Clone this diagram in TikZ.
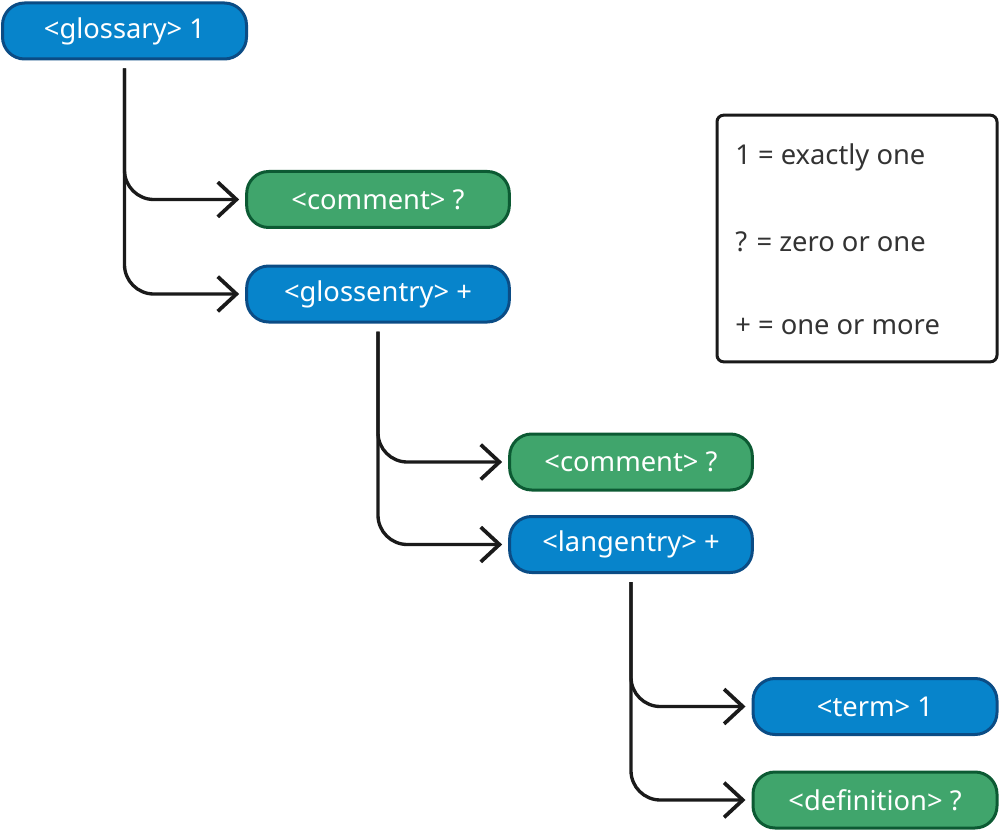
\documentclass[tikz,border=0pt]{standalone}
\usepackage{fontspec}
\setmainfont{Noto Sans}
\usetikzlibrary{arrows.meta}
\definecolor{bluefill}{HTML}{0784CB}
\definecolor{bluedraw}{HTML}{0B4C85}
\definecolor{greenfill}{HTML}{40A56C}
\definecolor{greendraw}{HTML}{0C5A33}
\definecolor{legtext}{HTML}{333333}
\definecolor{linecol}{HTML}{1A1A1A}
\newcommand{\lowtext}[1]{\raisebox{-1.5pt}{#1}}
\tikzset{
  box/.style={rounded corners=16.5pt, line width=2.25pt, text=white,
    font=\fontsize{20.5}{24}\selectfont, inner sep=0pt, anchor=center},
  bluebox/.style={box, fill=bluefill, draw=bluedraw},
  greenbox/.style={box, fill=greenfill, draw=greendraw},
  conn/.style={draw=linecol, line width=2.5pt, rounded corners=22pt,
    shorten <=6pt, shorten >=4.5pt,
    -{Straight Barb[length=14pt,width=26pt,line width=2.8pt]}},
  legitem/.style={anchor=west, text=legtext, font=\fontsize{20.5}{24}\selectfont, inner sep=0pt},
}
\begin{document}
\begin{tikzpicture}[x=0.75pt,y=-0.75pt]
\useasboundingbox (0,0) rectangle (1000,831);
\node[bluebox, minimum width=183pt, minimum height=42pt] (glossary) at (124.5,31) {\lowtext{<glossary> 1}};
\node[greenbox, minimum width=197pt, minimum height=42pt] (comment1) at (378,199.5) {\lowtext{<comment> ?}};
\node[bluebox, minimum width=197pt, minimum height=42pt] (glossentry) at (378,294) {\lowtext{<glossentry> +}};
\node[greenbox, minimum width=182pt, minimum height=42pt] (comment2) at (631,462) {\lowtext{<comment> ?}};
\node[bluebox, minimum width=182pt, minimum height=42pt] (langentry) at (631,544.5) {\lowtext{<langentry> +}};
\node[bluebox, minimum width=183pt, minimum height=42pt] (term) at (875,706.5) {\lowtext{<term> 1}};
\node[greenbox, minimum width=183pt, minimum height=42pt] (definition) at (875,800) {\lowtext{<definition> ?}};
\node[draw=linecol, line width=2.25pt, rounded corners=5pt, minimum width=210pt, minimum height=185pt] (legend) at (857,238.5) {};
\node[legitem] (l1) at (735,157) {1 = exactly one};
\node[legitem] (l2) at (735,242) {? = zero or one};
\node[legitem] (l3) at (735,327) {+ = one or more};
\draw[conn] (glossary.south) |- (comment1.west);
\draw[conn] (glossary.south) |- (glossentry.west);
\draw[conn] (glossentry.south) |- (comment2.west);
\draw[conn] (glossentry.south) |- (langentry.west);
\draw[conn] (langentry.south) |- (term.west);
\draw[conn] (langentry.south) |- (definition.west);
\end{tikzpicture}
\end{document}
